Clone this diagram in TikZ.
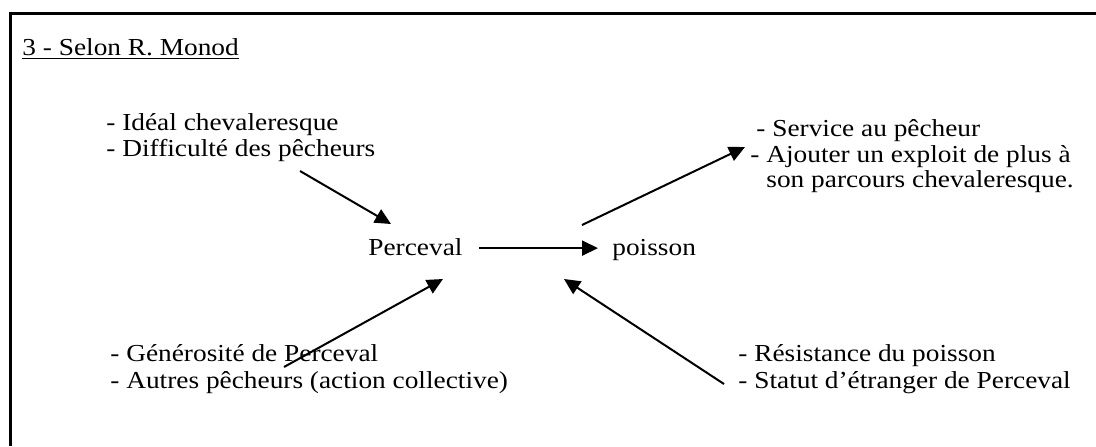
\documentclass[tikz,border=0pt]{standalone}
\usepackage{fontspec}
\setmainfont{Liberation Serif}[FakeStretch=1.12]
\usetikzlibrary{arrows.meta,positioning}

\tikzset{
  txt/.style={anchor=base west, inner sep=0pt, font=\fontsize{12.2pt}{13.5pt}\selectfont},
  word/.style={txt, text height=1.8ex, text depth=.3ex},
  arr/.style={-{Triangle[length=8pt,width=7.5pt]}, line width=1pt},
}

\begin{document}
\begin{tikzpicture}[x=0.5pt,y=-0.5pt]
  \useasboundingbox (0,0) rectangle (1096,446);
  % frame
  \draw[line width=1.5pt] (10,446) -- (10,13) -- (1096,13);

  \node[txt] (title) at (22,55) {\underline{3 - Selon R. Monod}};

  % causes, upper left
  \node[txt] (ideal) at (106,130) {- Idéal chevaleresque};
  \node[txt, below=13pt of ideal.base west, anchor=base west] (diff) {- Difficulté des pêcheurs};

  \node[word] (perceval) at (368,255) {Perceval};
  \node[word] (poisson) at (612,255) {poisson};

  % goals, upper right
  \node[txt] (service) at (756,136) {- Service au pêcheur};
  \node[txt, below=13pt of service.base west, anchor=base west, xshift=-3pt] (exploit) {- Ajouter un exploit de plus à};
  \node[txt, below=12.5pt of exploit.base west, anchor=base west, xshift=8pt] (parcours) {son parcours chevaleresque.};

  % helpers and obstacles
  \node[txt] (generosite) at (110,361) {- Générosité de Perceval};
  \node[txt, below=13.5pt of generosite.base west, anchor=base west] (autres) {- Autres pêcheurs (action collective)};
  \node[txt] (resistance) at (738,361) {- Résistance du poisson};
  \node[txt, below=13.5pt of resistance.base west, anchor=base west] (statut) {- Statut d’étranger de Perceval};

  \coordinate (diff out) at (300,171);
  \coordinate (perceval in) at (391,224);
  \coordinate (quest out) at (582,225);
  \coordinate (exploit in) at (745,147);
  \coordinate (generosite out) at (284,367);
  \coordinate (perceval up) at (443,279);
  \coordinate (statut out) at (724,384);
  \coordinate (poisson up) at (564,279);

  \draw[arr] (diff out) -- (perceval in);
  \draw[arr, shorten <=8pt, shorten >=7pt] (perceval.east) -- (poisson.west);
  \draw[arr] (quest out) -- (exploit in);
  \draw[arr] (generosite out) -- (perceval up);
  \draw[arr] (statut out) -- (poisson up);
\end{tikzpicture}
\end{document}
